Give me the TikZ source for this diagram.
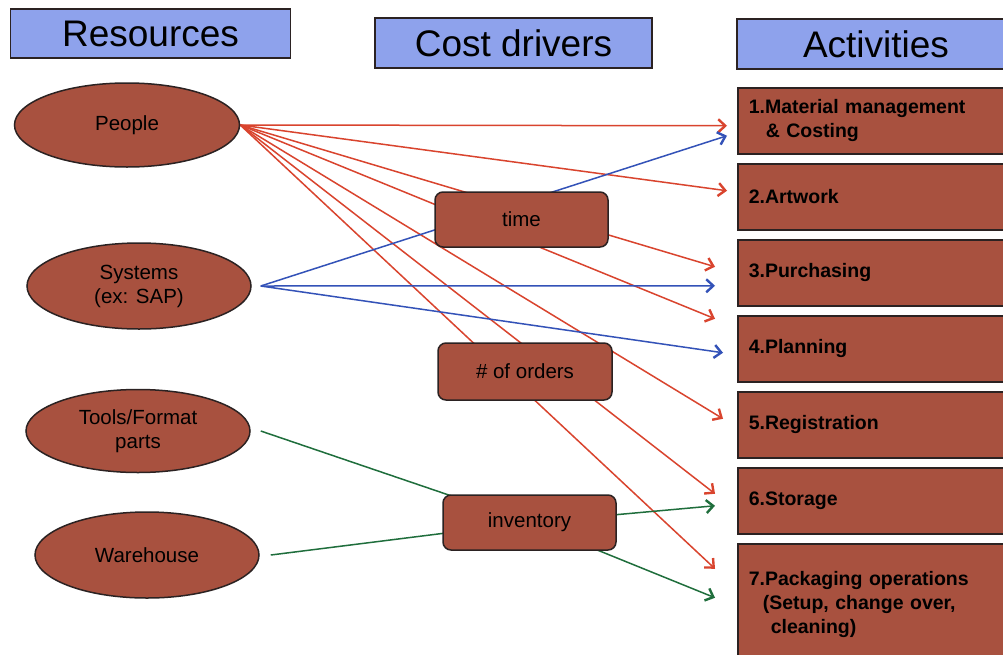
\documentclass[tikz,border=0pt]{standalone}
\usepackage{fontspec}
\setmainfont{Liberation Sans}
\usetikzlibrary{arrows.meta,shapes.geometric,backgrounds}
\definecolor{boxbrown}{HTML}{A8513F}
\definecolor{headblue}{HTML}{8EA2EC}
\definecolor{linered}{HTML}{D9442E}
\definecolor{lineblue}{HTML}{3352B8}
\definecolor{linegreen}{HTML}{1F6E3C}
\definecolor{edgegray}{HTML}{2B2222}

\begin{document}
\begin{tikzpicture}[x=1pt,y=-1pt,
  header/.style={draw=edgegray, line width=1.5pt, fill=headblue, minimum height=49pt,
    minimum width=280pt, inner sep=0pt, font=\fontsize{37}{40}\selectfont},
  resource/.style={ellipse, draw=edgegray, line width=1.5pt, fill=boxbrown,
    minimum width=224pt, minimum height=85pt, inner sep=0pt, align=center,
    font=\fontsize{20.5}{24}\selectfont},
  driver/.style={rectangle, rounded corners=8pt, draw=edgegray, line width=1.5pt,
    fill=boxbrown, minimum width=173pt, minimum height=55pt, inner sep=0pt,
    font=\fontsize{20.5}{24}\selectfont},
  activity/.style={rectangle, draw=edgegray, line width=1.5pt, fill=boxbrown,
    anchor=north west, text width=270pt, inner xsep=11pt, inner ysep=0pt, align=left,
    font=\bfseries\fontsize{19.5}{24}\selectfont},
  link/.style={line width=1.5pt, -{Straight Barb[length=7pt,width=13pt,line width=2.4pt]}},
  plain/.style={line width=1.5pt},
]
\useasboundingbox (0,0) rectangle (1003,654);
\clip (0,0) rectangle (1003,654);

% column headers
\node[header] (hres) at (150.5,33.5) {Resources};
\node[header, minimum width=277pt, minimum height=50pt] (hdrv) at (513.5,43) {Cost drivers};
\node[header, minimum width=278pt, minimum height=50pt] (hact) at (876,44) {Activities};

% resources
\node[resource, minimum width=225pt, minimum height=84pt] (people) at (127,125) {People};
\node[resource, minimum height=86pt] (sys) at (139,286) {Systems\\(ex: SAP)};
\node[resource, minimum height=83pt] (tools) at (138,431) {Tools/Format\\parts};
\node[resource, minimum height=86pt] (ware) at (147,555) {Warehouse};

% cost drivers
\node[driver] (time) at (521.5,219.5) {time};
\node[driver, minimum width=174pt, minimum height=57pt] (orders) at (525,371.5) {\# of orders};
\node[driver] (inv) at (529.5,522.5) {inventory};

% activities
\node[activity, minimum height=66pt] (a1) at (737,87)
  {1.Material management\\\hspace*{17pt}\& Costing};
\node[activity, minimum height=66pt] (a2) at (737,163) {2.Artwork};
\node[activity, minimum height=66pt] (a3) at (737,239) {3.Purchasing};
\node[activity, minimum height=66pt] (a4) at (737,315) {4.Planning};
\node[activity, minimum height=66pt] (a5) at (737,391) {5.Registration};
\node[activity, minimum height=66pt] (a6) at (737,467) {6.Storage};
\node[activity, minimum height=122pt] (a7) at (737,543)
  {7.Packaging operations\\\hspace*{14pt}(Setup, change over,\\\hspace*{22pt}cleaning)};

% connector ends
\coordinate (sysout) at ([xshift=9pt]sys.east);
\coordinate (toolsout) at ([xshift=10pt]tools.east);
\coordinate (wareout) at ([xshift=11pt]ware.east);
\coordinate (a1r) at ([xshift=-10pt,yshift=-5pt]a1.west);
\coordinate (a1b) at ([xshift=-10pt,yshift=-15pt]a1.west);
\coordinate (a2r) at ([xshift=-10pt,yshift=6pt]a2.west);
\coordinate (a3r) at ([xshift=-22pt,yshift=6pt]a3.west);
\coordinate (a3b) at ([xshift=-22pt,yshift=-13pt]a3.west);
\coordinate (a4r) at ([xshift=-22pt,yshift=30pt]a4.west);
\coordinate (a4b) at ([xshift=-14pt,yshift=-4pt]a4.west);
\coordinate (a5r) at ([xshift=-14pt,yshift=6pt]a5.west);
\coordinate (a6r) at ([xshift=-22pt,yshift=7pt]a6.west);
\coordinate (a6g) at ([xshift=-22pt,yshift=-5pt]a6.west);
\coordinate (a7r) at ([xshift=-22pt,yshift=36pt]a7.west);
\coordinate (a7g) at ([xshift=-22pt,yshift=7pt]a7.west);

\begin{scope}[on background layer]
  \fill[white] (0,0) rectangle (1003,654);
  % people
  \foreach \t in {a1r,a2r,a3r,a4r,a5r,a6r,a7r}
    \draw[link, linered] (people.east) -- (\t);
  % systems
  \foreach \t in {a1b,a3b,a4b}
    \draw[link, lineblue] (sysout) -- (\t);
  % inventory
  \draw[plain, linegreen] (toolsout) -- (inv.center);
  \draw[plain, linegreen] (wareout) -- (inv.center);
  \draw[link, linegreen] (inv.center) -- (a6g);
  \draw[link, linegreen] (inv.center) -- (a7g);
\end{scope}
\end{tikzpicture}
\end{document}
